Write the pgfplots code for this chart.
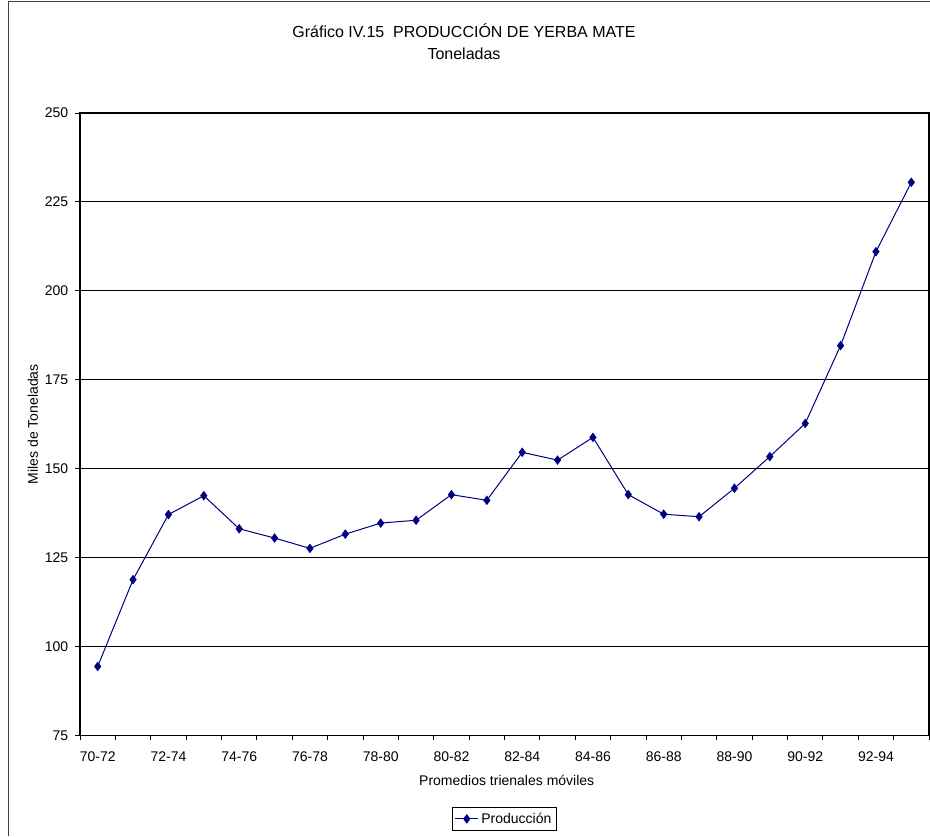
\documentclass[border=0pt]{standalone}
\usepackage{fontspec}
\setmainfont{Liberation Sans}
\usepackage{pgfplots}
\pgfplotsset{compat=1.18}
\definecolor{ser}{HTML}{000080}
\begin{document}
\begin{tikzpicture}[x=1pt,y=1pt]
\useasboundingbox (0,0) rectangle (697.5,627);
\draw[line width=0.75pt, black!75] (6,0) -- (6,625.5) -- (697.5,625.5);
\node[anchor=base, font=\fontsize{12}{14}\selectfont, inner sep=0pt] at (348,598.9) {Gráfico IV.15\ \ PRODUCCIÓN DE YERBA MATE};
\node[anchor=base, font=\fontsize{12}{14}\selectfont, inner sep=0pt] at (348,582.4) {Toneladas};
\begin{axis}[
  at={(60pt,75.4pt)}, anchor=south west,
  scale only axis, width=636.75pt, height=466.9pt,
  xmin=-0.5, xmax=23.5, ymin=75, ymax=250,
  xtick={0,2,...,22},
  xticklabels={70-72,72-74,74-76,76-78,78-80,80-82,82-84,84-86,86-88,88-90,90-92,92-94},
  minor xtick={-0.5,0.5,...,23.5},
  ytick={75,100,...,250},
  xtick pos=bottom, ytick pos=left,
  ymajorgrids,
  grid style={black, line width=0.6pt},
  tick align=outside,
  major x tick style={draw=none},
  minor tick length=3.75pt, major tick length=3.75pt,
  tick style={black, line width=0.6pt},
  axis line style={black, line width=0.8pt},
  tick label style={font=\fontsize{10.5}{12}\selectfont},
  xticklabel style={yshift=-5pt},
  yticklabel style={xshift=-1.5pt},
  /pgf/number format/assume math mode=true,
  xlabel={Promedios trienales móviles},
  ylabel={Miles de Toneladas},
  label style={font=\fontsize{10.5}{12}\selectfont},
  xlabel style={at={(axis description cs:0.5026,-0.0715)}, anchor=center},
  ylabel style={at={(axis description cs:-0.0554,0.5)}, anchor=center, rotate=0},
  legend style={at={(0.5,-0.134)}, anchor=center, draw=black, line width=0.6pt, font=\fontsize{10.5}{12}\selectfont, inner sep=2pt},
  legend cell align=left,
]
\addplot[color=ser, line width=0.75pt, mark=diamond*, mark size=3pt, mark options={fill=ser, draw=ser}] table {
x y
0 94.4
1 118.8
2 137.1
3 142.4
4 133.1
5 130.5
6 127.6
7 131.6
8 134.7
9 135.5
10 142.7
11 141.1
12 154.6
13 152.4
14 158.8
15 142.7
16 137.2
17 136.5
18 144.5
19 153.4
20 162.7
21 184.6
22 211.0
23 230.5
};
\addlegendentry{Producción}
\end{axis}
\end{tikzpicture}
\end{document}
